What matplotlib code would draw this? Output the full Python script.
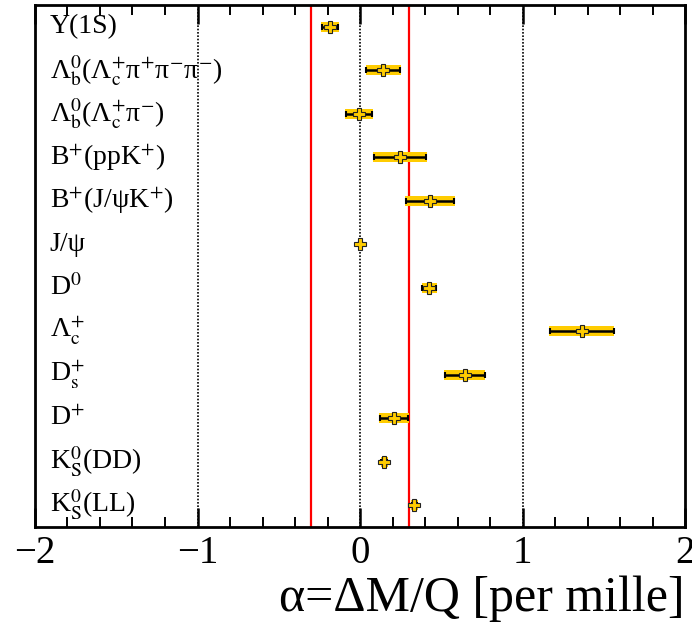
import numpy as np
import matplotlib.pyplot as plt
from matplotlib.ticker import MultipleLocator

plt.rcParams['font.family'] = ['Liberation Serif', 'DejaVu Serif']
plt.rcParams['mathtext.fontset'] = 'stix'

# bottom to top
labels = [r"K$_\mathrm{S}^\mathrm{0}$(LL)",
          r"K$_\mathrm{S}^\mathrm{0}$(DD)",
          r"D$^\mathrm{+}$",
          r"D$_\mathrm{s}^\mathrm{+}$",
          r"Λ$_\mathrm{c}^\mathrm{+}$",
          r"D$^\mathrm{0}$",
          r"J/ψ",
          r"B$^\mathrm{+}$(J/ψK$^\mathrm{+}$)",
          r"B$^\mathrm{+}$(ppK$^\mathrm{+}$)",
          r"Λ$_\mathrm{b}^\mathrm{0}$(Λ$_\mathrm{c}^\mathrm{+}$π$^\mathrm{-}$)",
          r"Λ$_\mathrm{b}^\mathrm{0}$(Λ$_\mathrm{c}^\mathrm{+}$π$^\mathrm{+}$π$^\mathrm{-}$π$^\mathrm{-}$)",
          r"Υ(1S)"]
alpha = [0.334, 0.150, 0.209, 0.644, 1.364, 0.427, 0.002, 0.430, 0.246, -0.006, 0.144, -0.185]
err = [0.015, 0.018, 0.085, 0.123, 0.197, 0.043, 0.010, 0.150, 0.162, 0.080, 0.105, 0.050]
band = [0.020, 0.022, 0.090, 0.128, 0.202, 0.048, 0.014, 0.155, 0.167, 0.085, 0.110, 0.055]
limit = 0.3

rect = [35 / 692, 1 - 527 / 627, 650 / 692, 522 / 627]
fig = plt.figure(figsize=(6.92, 6.27), dpi=100)
ax = fig.add_axes(rect)

ys = np.arange(len(labels)) + 0.5
alpha = np.array(alpha)
err = np.array(err)
band = np.array(band)

for xv in [-1, 0, 1]:
    ax.axvline(xv, color='black', ls=(0, (1, 1)), lw=1.2, zorder=1)
ax.axvline(-limit, color='red', lw=1.6, zorder=2)
ax.axvline(limit, color='red', lw=1.6, zorder=2)

ax.barh(ys, 2 * band, left=alpha - band, height=0.23, color='#FFCC00', zorder=3)
ax.errorbar(alpha, ys, xerr=err, fmt='none', ecolor='black', elinewidth=1.8,
            capsize=2.5, capthick=1.5, zorder=4)
ax.plot(alpha, ys, 'P', ms=8, mfc='#FFCC00', mec='#222222', mew=0.8, zorder=5)

for yv, lab in zip(ys, labels):
    ax.text(-1.91, yv, lab, fontsize=20, va='center', ha='left')

ax.set_xlim(-2, 2)
ax.set_ylim(0, 12)
ax.set_xticks([])
ax.set_yticks([])
for s in ax.spines.values():
    s.set_visible(False)

# frame and ticks on a bare overlay axes
axt = fig.add_axes(rect, facecolor='none')
axt.set_xlim(-2, 2)
axt.set_ylim(0, 12)
axt.set_yticks([])
axt.xaxis.set_major_locator(MultipleLocator(1))
axt.xaxis.set_minor_locator(MultipleLocator(0.2))
axt.xaxis.set_major_formatter(lambda v, pos: f"{v:.0f}".replace('-', '\u2212'))
axt.tick_params(axis='x', which='major', direction='in', length=14, width=1.8,
                color='black', top=True, bottom=True, labelsize=28, pad=6)
axt.tick_params(axis='x', which='minor', direction='in', length=7, width=1.4,
                color='black', top=True, bottom=True)
for s in axt.spines.values():
    s.set_linewidth(2)

axt.set_xlabel('α=ΔM/Q [per mille]', fontsize=36, ha='right', va='center')
axt.xaxis.set_label_coords(1.0, -0.137)

fig.savefig('out.png', dpi=100)
